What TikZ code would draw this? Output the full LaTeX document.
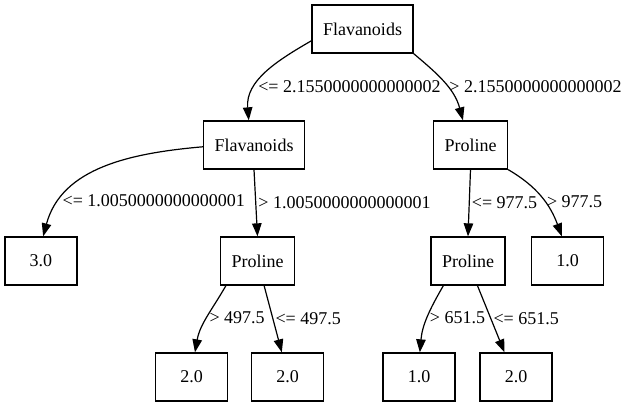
\documentclass[tikz,border=0pt]{standalone}
\usepackage{fontspec}
\setmainfont{Liberation Serif}
\usetikzlibrary{arrows.meta}
\begin{document}
\begin{tikzpicture}[x=1pt, y=1pt,
  box/.style={draw, line width=1.3pt, minimum width=72pt, minimum height=48pt, inner xsep=11pt, font=\fontsize{18}{20}\selectfont},
  edge/.style={line width=1.2pt, -{Triangle[length=13pt, width=9.5pt]}},
  lbl/.style={font=\fontsize{18}{20}\selectfont, inner sep=2pt}]
\useasboundingbox (0,0) rectangle (633,407);
\node (1) at (362.5, 378) [box] {Flavanoids};
\node (2) at (254, 262) [box] {Flavanoids};
\node (3) at (470.5, 262) [box] {Proline};
\node (4) at (41, 146) [box] {3.0};
\node (5) at (257.5, 146) [box] {Proline};
\node (6) at (468, 146) [box] {Proline};
\node (7) at (567.5, 146) [box] {1.0};
\node (8) at (191.5, 30) [box] {2.0};
\node (9) at (287.5, 30) [box] {2.0};
\node (10) at (419, 30) [box] {1.0};
\node (11) at (516, 30) [box] {2.0};
\draw[edge] (1.193) to[out=210, in=95] node[lbl, right, pos=0.67]{<= 2.1550000000000002} (2.102);
\draw[edge] (1.south east) to[out=-40, in=105] node[lbl, right, pos=0.55]{> 2.1550000000000002} (3.107);
\draw[edge] (2.182) to[out=185, in=75] node[lbl, right, pos=0.8]{<= 1.0050000000000001} (4.85);
\draw[edge] (2.south) -- node[lbl, right]{> 1.0050000000000001} (5.north);
\draw[edge] (3.south) -- node[lbl, right]{<= 977.5} (6.north);
\draw[edge] (3.south east) to[out=-30, in=110] node[lbl, right, pos=0.56]{> 977.5} (7.103);
\draw[edge] (5.218) to[out=240, in=80] node[lbl, right, pos=0.5]{> 497.5} (8.82);
\draw[edge] (5.285) -- node[lbl, right]{<= 497.5} (9.103);
\draw[edge] (6.225) to[out=240, in=85] node[lbl, right, pos=0.5]{> 651.5} (10.88);
\draw[edge] (6.291) -- node[lbl, right]{<= 651.5} (11.115);
\end{tikzpicture}
\end{document}
